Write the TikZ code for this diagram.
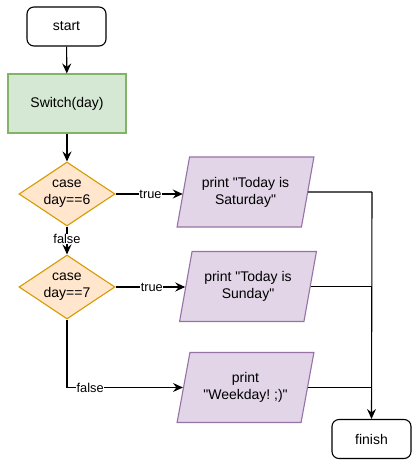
\documentclass[tikz,border=0pt]{standalone}
\usepackage{fontspec}
\newfontfamily\mainf{Liberation Sans}
\usetikzlibrary{shapes.geometric,arrows.meta}
\definecolor{gfill}{HTML}{D5E8D4}\definecolor{gline}{HTML}{82B366}
\definecolor{ofill}{HTML}{FFE6CC}\definecolor{oline}{HTML}{D79B00}
\definecolor{pfill}{HTML}{E1D5E7}\definecolor{pline}{HTML}{9673A6}
\frenchspacing
\begin{document}
\begin{tikzpicture}[x=1pt,y=-1pt,
  every node/.style={font=\mainf\fontsize{14}{17}\selectfont, align=center, line width=1.1pt},
  term/.style={draw=black, fill=white, rounded corners=7pt, minimum width=79pt, minimum height=39pt, inner sep=0pt},
  proc/.style={draw=gline, fill=gfill, minimum width=118pt, minimum height=59pt, inner sep=0pt},
  dec/.style={diamond, draw=oline, fill=ofill, minimum width=96pt, minimum height=64pt, inner sep=0pt, aspect=1.5},
  io/.style={trapezium, trapezium left angle=72, trapezium right angle=108, trapezium stretches=true, draw=pline, fill=pfill, minimum width=137pt, minimum height=70pt, inner sep=0pt},
  conn/.style={draw=black, line width=1.1pt, -{Stealth[length=10pt,width=9pt,inset=3.5pt]}},
  plain/.style={draw=black, line width=1.1pt},
  lbl/.style={fill=white, inner sep=0.5pt, font=\mainf\fontsize{12.8}{15}\selectfont}]
\useasboundingbox (0,0) rectangle (415,470);
\node[term] (start) at (66.5,26.5) {start};
\node[proc] (sw) at (67,103.5) {Switch(day)};
\node[dec] (d1) at (67,194) {case\\day==6};
\node[dec] (d2) at (67,287) {case\\day==7};
\node[io] (p1) at (245.5,192) {print "Today is\\Saturday"};
\node[io] (p2) at (248,286.5) {print "Today is\\Sunday"};
\node[io] (p3) at (245.5,387.5) {print\\"Weekday!\ ;)"};
\node[term] (fin) at (371.5,439) {finish};
\coordinate (m1) at (372,192);
\draw[conn] (start) -- (sw);
\draw[conn] (sw) -- (d1);
\draw[conn] (d1) -- node[lbl, pos=0.45] {false} (d2);
\draw[conn] (d1.east) -- node[lbl, pos=0.52] {true} (d1.east -| p1.west);
\draw[conn] (d2.east) -- node[lbl, pos=0.52] {true} (d2.east -| p2.west);
\draw[conn] (d2.south) |- node[lbl, pos=0.6] {false} (p3.west);
\draw[plain] (p1.east) -- (m1);
\draw[plain] (p2.east) -- (p2.east -| m1);
\draw[plain] (p3.east) -- (p3.east -| m1);
\draw[conn] (m1) -- (fin.north);
\end{tikzpicture}
\end{document}
